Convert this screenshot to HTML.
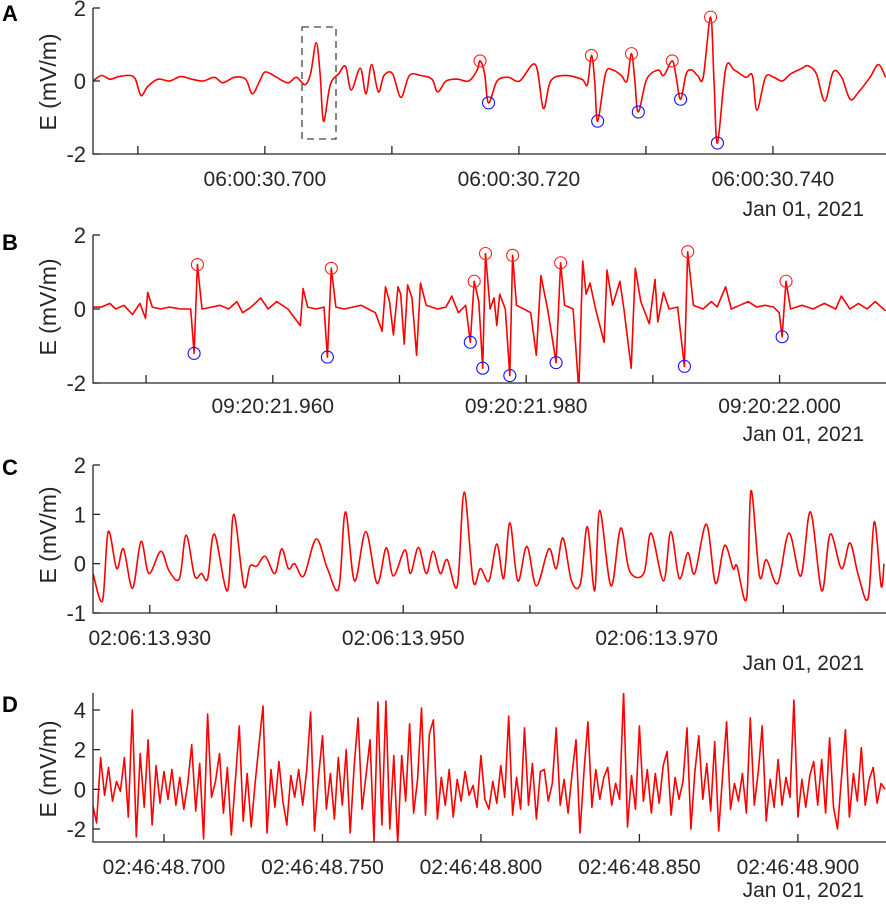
<!DOCTYPE html>
<html><head><meta charset="utf-8">
<style>
html,body{margin:0;padding:0;background:#fff;}
svg{display:block;font-family:"Liberation Sans",Arial,sans-serif;}
</style></head>
<body>
<svg id="chart" width="886" height="907" viewBox="0 0 886 907" xmlns="http://www.w3.org/2000/svg"></svg>
<script>
// ---------- Panel A data (time in ms after 06:00:30.700, E in mV/m) ----------
const aTime = [-13.53,-12.86,-12.20,-11.53,-10.64,-10.19,-9.75,-9.22,-8.41,-7.52,-6.63,-5.75,-4.86,-3.97,-3.30,-2.41,-1.52,-0.99,-0.41,0.04,0.93,1.82,2.48,3.15,3.60,4.04,4.35,4.62,5.15,5.82,6.35,6.80,7.51,7.96,8.40,8.93,9.38,10.05,10.71,11.38,12.27,13.16,13.60,14.27,15.16,16.05,16.72,16.94,17.30,17.61,18.28,19.17,20.06,21.30,21.92,22.50,23.61,24.95,25.39,25.71,25.97,26.20,26.82,27.40,28.06,28.51,28.86,29.13,29.40,30.06,30.95,31.40,32.07,32.38,32.73,33.18,33.62,34.07,34.51,35.09,35.36,35.63,36.29,36.96,37.85,38.38,38.74,39.41,40.07,40.74,41.41,42.30,42.74,43.41,44.08,44.74,45.41,46.08,46.75,47.64,48.30,48.88];
const aValues = [0.0,0.15,0.05,0.12,0.15,0.05,-0.4,-0.15,0.05,0.0,0.12,0.05,0.0,0.1,-0.05,0.1,0.05,-0.35,0.0,0.25,0.1,-0.05,0.1,-0.1,0.2,1.05,0.2,-1.1,-0.1,0.2,0.4,-0.25,0.35,-0.35,0.45,-0.3,0.15,0.2,-0.45,0.15,0.15,0.05,-0.3,0.0,0.05,0.0,0.3,0.55,0.2,-0.6,0.0,0.1,0.0,0.45,-0.75,0.0,0.15,0.05,-0.1,0.7,0.0,-1.1,0.2,0.3,0.15,0.0,0.75,0.0,-0.85,0.05,0.3,0.15,0.55,0.1,-0.5,0.2,0.3,0.15,0.1,1.75,0.0,-1.7,0.35,0.3,0.1,0.15,-0.8,0.1,0.1,0.0,0.2,0.35,0.42,0.2,-0.55,0.25,0.1,-0.5,-0.3,0.1,0.45,0.1];
const aPeakTime = [16.94,25.71,28.86,32.07,35.09];
const aPeakValue = [0.55,0.7,0.75,0.55,1.75];
const aTroughTime = [17.61,26.20,29.40,32.73,35.63];
const aTroughValue = [-0.6,-1.1,-0.85,-0.5,-1.7];
const aTicks = [-10,0,10,20,30,40];
const aTickLabels = ["","06:00:30.700","","06:00:30.720","","06:00:30.740"];

// ---------- Panel B data (ms after 09:20:21.960) ----------
const bTime = [-14.19,-13.53,-12.86,-12.41,-11.74,-11.07,-10.49,-10.05,-9.87,-9.51,-8.84,-8.17,-7.28,-6.48,-6.21,-5.95,-5.59,-4.83,-4.16,-3.49,-2.83,-2.38,-1.71,-0.95,-0.37,0.30,1.19,2.17,2.39,2.75,3.42,4.04,4.31,4.62,4.98,5.65,6.31,6.98,7.52,8.10,8.63,8.90,9.21,9.52,9.88,10.10,10.37,10.64,10.99,11.35,11.66,12.11,13.00,13.67,14.12,14.65,15.23,15.59,15.90,16.26,16.57,16.79,17.15,17.46,17.68,17.91,18.35,18.71,18.93,19.24,19.82,20.36,20.80,21.16,21.69,22.36,22.72,23.03,23.70,24.15,24.46,24.73,25.04,25.48,26.15,26.38,26.82,27.40,27.71,28.29,28.61,29.05,29.72,30.17,30.39,30.84,31.28,31.95,32.49,32.75,33.20,33.96,34.62,35.07,35.74,36.19,36.85,37.52,38.19,38.86,39.53,39.97,40.20,40.51,40.87,41.76,42.65,43.54,44.43,44.88,45.55,46.22,46.89,47.55,48.36];
const bValues = [0.05,0.05,0.15,0.0,0.1,-0.15,0.15,-0.25,0.45,0.05,0.0,0.05,0.0,0.0,-1.2,1.2,0.0,0.05,0.1,0.0,0.2,-0.1,0.05,0.3,0.0,0.2,0.0,-0.45,0.55,0.05,0.0,0.05,-1.3,1.1,0.05,0.0,0.05,0.1,0.0,-0.1,-0.6,0.6,0.2,-0.7,0.6,0.4,-0.95,0.65,0.3,-1.25,0.7,0.1,0.0,0.05,0.35,-0.1,0.1,-0.9,0.75,0.2,-1.6,1.5,0.0,0.3,-0.45,0.4,0.0,-1.8,1.45,0.1,0.0,-0.1,-1.25,0.9,0.0,-1.45,1.25,0.1,0.0,-2.2,1.3,0.4,0.7,0.0,-0.9,1.05,0.1,0.75,0.0,-1.6,1.1,0.2,-0.4,0.8,-0.35,0.45,0.0,0.05,-1.55,1.55,0.1,0.0,0.2,0.05,0.6,0.0,0.1,0.2,0.05,0.1,0.05,-0.1,-0.75,0.75,0.0,0.1,0.0,0.15,0.0,0.35,0.0,0.15,0.0,0.2,-0.05];
const bPeakTime = [-5.95,4.62,15.90,16.79,18.93,22.72,32.75,40.51];
const bPeakValue = [1.2,1.1,0.75,1.5,1.45,1.25,1.55,0.75];
const bTroughTime = [-6.21,4.31,15.59,16.57,18.71,22.36,32.49,40.20];
const bTroughValue = [-1.2,-1.3,-0.9,-1.6,-1.8,-1.45,-1.55,-0.75];
const bTicks = [-10,0,10,20,30,40];
const bTickLabels = ["","09:20:21.960","","09:20:21.980","","09:20:22.000"];

// ---------- Panel C data (ms after 02:06:13.930) ----------
const cTime = [-4.48,-3.73,-3.28,-2.61,-2.08,-1.36,-0.69,-0.07,0.87,1.53,2.34,2.87,3.54,4.08,4.57,5.10,6.13,6.62,7.42,7.91,8.45,9.11,9.87,10.41,10.94,11.43,12.15,13.13,14.02,14.91,15.44,16.16,17.05,17.94,18.66,19.23,20.13,20.57,21.20,21.82,22.36,22.93,23.47,24.27,24.81,25.52,26.10,26.77,27.39,27.93,28.42,29.04,29.76,30.51,31.49,32.07,32.61,33.28,33.99,34.53,35.11,35.51,36.40,37.16,37.87,38.98,39.56,40.54,41.12,41.79,42.46,43.00,43.93,44.65,45.36,46.03,46.34,47.10,47.45,48.12,48.66,49.55,50.44,51.38,52.14,53.03,53.70,54.59,55.26,55.93,56.69,57.18,57.71,57.94];
const cValues = [-0.2,-0.75,0.65,-0.1,0.3,-0.5,0.45,-0.2,0.25,-0.15,-0.3,0.58,-0.25,-0.2,-0.3,0.6,-0.55,1.0,-0.45,-0.05,-0.05,0.15,-0.2,0.3,-0.1,0.0,-0.25,0.5,-0.1,-0.5,1.05,-0.35,0.65,-0.4,0.32,-0.25,0.28,-0.2,0.33,-0.2,0.25,-0.2,0.08,-0.45,1.45,-0.35,-0.1,-0.35,0.4,-0.3,0.83,-0.35,0.35,-0.45,0.3,-0.1,0.52,-0.35,-0.4,0.75,-0.55,1.08,-0.45,0.72,-0.15,-0.2,0.62,-0.35,0.65,-0.3,0.22,-0.2,0.8,-0.4,0.37,-0.1,-0.05,-0.7,1.48,-0.25,0.08,-0.4,0.62,-0.25,1.05,-0.55,0.6,-0.1,0.42,-0.25,-0.7,0.85,-0.45,0.0];
const cTicks = [0,10,20,30,40,50];
const cTickLabels = ["02:06:13.930","","02:06:13.950","","02:06:13.970",""];

// ---------- Panel D data (sample grid from -22.5 ms, 1.25 ms step, after 02:46:48.700) ----------
const dStart = -22.5;
const dStep = 1.25;
const dValues = [-0.8,-1.7,1.6,-0.3,1.1,-0.6,0.4,-0.1,1.6,-1.4,4.0,-2.4,1.8,-0.9,2.5,-1.8,1.2,-0.7,0.9,-0.5,1.0,-0.8,0.6,-1.0,0.3,2.25,-1.1,1.3,-2.5,3.8,-0.4,0.4,1.8,-1.2,1.1,-2.3,0.4,3.2,-1.6,0.8,-1.9,0.3,2.3,4.2,-2.2,1.0,-0.9,1.4,-0.6,-1.8,0.7,-0.4,1.0,-0.8,0.9,3.9,-2.1,0.6,2.7,-1.0,0.8,-1.5,1.6,-0.8,2.0,-2.2,1.2,3.6,-1.0,0.7,2.5,-2.6,4.4,-1.8,4.45,-2.0,1.7,-2.75,1.7,-0.6,3.3,-1.2,0.5,4.1,-1.3,2.8,3.5,-1.5,0.6,-0.8,1.0,-1.4,0.5,-0.6,0.9,-0.3,0.2,-0.9,1.7,-0.5,-1.0,0.4,-0.7,1.2,-0.4,3.7,-1.3,0.6,-1.0,3.1,-0.8,1.3,-1.5,0.9,1.0,-0.6,0.3,3.1,-0.8,0.5,-1.2,0.8,2.5,-2.2,0.9,3.4,-0.9,1.0,-0.5,0.6,1.1,-0.8,0.3,-0.5,4.9,-1.9,0.7,-1.0,3.2,-0.6,1.0,-1.2,0.8,-0.7,1.2,1.9,-1.3,0.6,-0.5,0.4,3.1,-2.0,0.9,2.7,-0.5,1.3,-1.1,2.4,-2.1,0.7,3.4,-1.0,0.3,-0.6,0.8,-1.2,3.6,-0.8,0.9,3.2,-1.6,0.5,-0.9,1.5,-0.8,0.6,-0.4,4.5,-1.4,0.5,-0.9,0.7,1.4,-0.8,1.5,-1.2,2.6,-0.9,-2.0,0.6,3.0,-1.4,0.8,-0.6,2.1,-0.8,0.5,1.1,-0.7,0.3,0.0];
const dTicks = [0,50,100,150,200];
const dTickLabels = ["02:46:48.700","02:46:48.750","02:46:48.800","02:46:48.850","02:46:48.900"];

const SVGNS = "http://www.w3.org/2000/svg";
const svg = document.getElementById('chart');
function mk(tag, attrs, parent){
  const e = document.createElementNS(SVGNS, tag);
  for (const k in attrs) e.setAttribute(k, attrs[k]);
  (parent||svg).appendChild(e);
  return e;
}
function txt(s, attrs, parent){ const e = mk('text', attrs, parent); e.textContent = s; return e; }

function smoothPath(P){
  let d = 'M' + P[0][0].toFixed(1) + ',' + P[0][1].toFixed(1);
  for (let i = 0; i < P.length - 1; i++) {
    const p0 = P[Math.max(0, i - 1)], p1 = P[i], p2 = P[i + 1], p3 = P[Math.min(P.length - 1, i + 2)];
    const c1x = p1[0] + (p2[0] - p0[0]) / 6, c1y = p1[1] + (p2[1] - p0[1]) / 6;
    const c2x = p2[0] - (p3[0] - p1[0]) / 6, c2y = p2[1] - (p3[1] - p1[1]) / 6;
    d += ' C' + c1x.toFixed(1) + ',' + c1y.toFixed(1) + ' ' + c2x.toFixed(1) + ',' + c2y.toFixed(1) + ' ' + p2[0].toFixed(1) + ',' + p2[1].toFixed(1);
  }
  return d;
}

function drawPanel(cfg){
  const g = mk('g', {});
  
  
  const X0 = 93, X1 = 886;
  const xs = t => X0 + (t - cfg.tMin) / (cfg.tMax - cfg.tMin) * (X1 - X0);
  const ys = v => cfg.yPx0 + (cfg.v0 - v) / (cfg.v0 - cfg.v1) * (cfg.yPx1 - cfg.yPx0);
  const cid = 'clip' + cfg.id;
  const cp = mk('clipPath', {id: cid}, g);
  mk('rect', {x: X0, y: cfg.top, width: X1 - X0, height: cfg.bottom - cfg.top}, cp);

  const P = cfg.time.map((t, i) => [xs(t), ys(cfg.values[i])]);
  let line;
  if (cfg.smooth) {
    line = mk('path', {d: smoothPath(P), fill: 'none', stroke: '#ff0000', 'stroke-width': 1.6, 'stroke-linejoin': 'round', 'clip-path': 'url(#' + cid + ')'}, g);
  } else {
    line = mk('polyline', {points: P.map(p => p[0].toFixed(1) + ',' + p[1].toFixed(1)).join(' '), fill: 'none', stroke: '#ff0000', 'stroke-width': 1.6, 'stroke-linejoin': 'round', 'clip-path': 'url(#' + cid + ')'}, g);
  }
  
  

  if (cfg.peakTime) {
    cfg.peakTime.forEach((t, i) => {
      const c = mk('circle', {cx: xs(t), cy: ys(cfg.peakValue[i]), r: 6, fill: 'none', stroke: '#ff2020', 'stroke-width': 1.1}, g);
      
      
    });
    cfg.troughTime.forEach((t, i) => {
      const c = mk('circle', {cx: xs(t), cy: ys(cfg.troughValue[i]), r: 6, fill: 'none', stroke: '#1010ff', 'stroke-width': 1.1}, g);
      
      
    });
  }

  const ax = mk('path', {d: 'M' + X0 + ' ' + cfg.top + ' V' + cfg.bottom + ' H' + X1, fill: 'none', stroke: '#262626', 'stroke-width': 1.3}, g);
  
  

  cfg.yTicks.forEach(v => {
    const y = ys(v);
    mk('line', {x1: X0, x2: X0 + 7, y1: y, y2: y, stroke: '#262626', 'stroke-width': 1.3}, g);
    const l = txt(String(v), {x: 86, y: y + 8, 'text-anchor': 'end', 'font-size': 22, fill: '#262626'}, g);
    
    
  });

  cfg.ticks.forEach((t, i) => {
    const x = xs(t);
    mk('line', {x1: x, x2: x, y1: cfg.bottom, y2: cfg.bottom - 8, stroke: '#262626', 'stroke-width': 1.3}, g);
    if (cfg.tickLabels[i]) {
      const l = txt(cfg.tickLabels[i], {x: x, y: cfg.labelY + 7, 'text-anchor': 'middle', 'font-size': 21, fill: '#262626'}, g);
      
      
    }
  });

  const d = txt('Jan 01, 2021', {x: 864, y: cfg.dateY + 7, 'text-anchor': 'end', 'font-size': 21, fill: '#262626'}, g);
  
  

  const yl = txt('E (mV/m)', {x: 0, y: 0, 'text-anchor': 'middle', 'font-size': 23, fill: '#262626', transform: 'translate(56,' + cfg.yLabelY + ') rotate(-90)'}, g);
  
  

  const pl = txt(cfg.id, {x: 2, y: cfg.letterY + 8, 'font-size': 22, 'font-weight': 'bold', fill: '#000'}, g);
  
  

  return {g, xs, ys};
}

const pA = drawPanel({id: 'A', smooth: true, time: aTime, values: aValues, peakTime: aPeakTime, peakValue: aPeakValue, troughTime: aTroughTime, troughValue: aTroughValue,
  tMin: -13.53, tMax: 48.9, v0: 2, v1: -2, yPx0: 8, yPx1: 154, top: 8, bottom: 154,
  yTicks: [2,0,-2], ticks: aTicks, tickLabels: aTickLabels, labelY: 179, dateY: 209, yLabelY: 82, letterY: 13});
const box = mk('rect', {x: 302, y: 27, width: 34, height: 112, fill: 'none', stroke: '#444', 'stroke-width': 1.3, 'stroke-dasharray': '7,5'}, pA.g);



drawPanel({id: 'B', time: bTime, values: bValues, peakTime: bPeakTime, peakValue: bPeakValue, troughTime: bTroughTime, troughValue: bTroughValue,
  tMin: -14.19, tMax: 48.4, v0: 2, v1: -2, yPx0: 235, yPx1: 383, top: 235, bottom: 383,
  yTicks: [2,0,-2], ticks: bTicks, tickLabels: bTickLabels, labelY: 406, dateY: 434, yLabelY: 307, letterY: 242});

drawPanel({id: 'C', smooth: true, time: cTime, values: cValues,
  tMin: -4.48, tMax: 58.1, v0: 2, v1: -1, yPx0: 465, yPx1: 613, top: 465, bottom: 613,
  yTicks: [2,1,0,-1], ticks: cTicks, tickLabels: cTickLabels, labelY: 638, dateY: 663, yLabelY: 535, letterY: 467});

const dTime = dValues.map((v, i) => dStart + i * dStep);
drawPanel({id: 'D', time: dTime, values: dValues,
  tMin: -22.4, tMax: 227.8, v0: 4, v1: -2, yPx0: 710, yPx1: 829, top: 693, bottom: 842,
  yTicks: [4,2,0,-2], ticks: dTicks, tickLabels: dTickLabels, labelY: 867, dateY: 890, yLabelY: 769, letterY: 704});
</script>
</body></html>
